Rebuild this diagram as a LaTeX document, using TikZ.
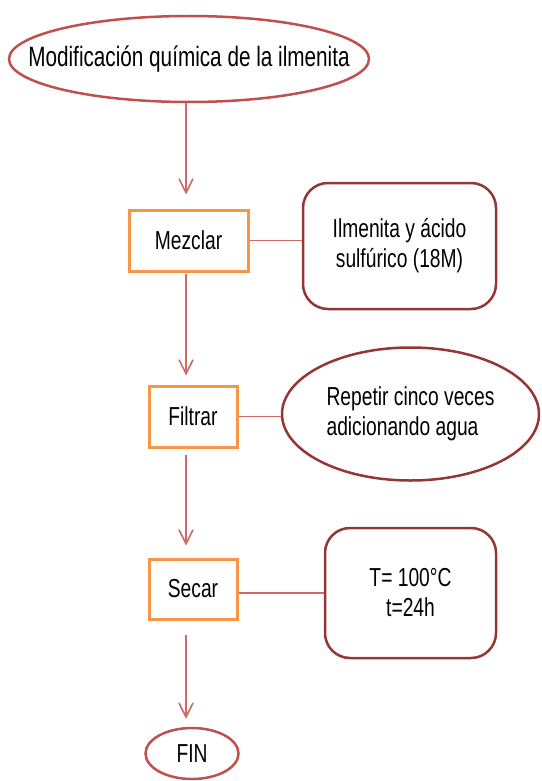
\documentclass[tikz,border=0pt]{standalone}
\usepackage{fontspec}
\setmainfont{Liberation Sans}[FakeStretch=0.74]
\usetikzlibrary{arrows.meta,shapes.geometric}
\definecolor{linea}{HTML}{CD6B69}
\definecolor{naranja}{HTML}{F79646}
\definecolor{rojo}{HTML}{C0504D}
\definecolor{granate}{HTML}{943634}

\begin{document}
\begin{tikzpicture}[x=1pt,y=-1pt,
	every node/.style={font=\fontsize{26}{30}\selectfont,inner sep=0pt},
	paso/.style={draw=naranja,line width=3pt,minimum width=88pt,minimum height=61pt},
	nota/.style={draw=granate,line width=2.5pt,rounded corners=25pt,align=center},
	elipse/.style={draw=rojo,ellipse,line width=2.5pt},
	flecha/.style={draw=linea,line width=1.6pt,-{Straight Barb[length=14pt,width=14pt]}},
	enlace/.style={draw=linea,line width=1.6pt}]
	\useasboundingbox (0,0) rectangle (541,781);
	\coordinate (eje) at (186,0);
	\node[elipse,minimum width=360pt,minimum height=86pt,inner xsep=-45pt,font=\fontsize{28}{30}\selectfont] (inicio) at (189,59) {Modificación química de la ilmenita};
	\node[paso,minimum width=119pt] (mezclar) at (188.5,240.5) {Mezclar};
	\node[nota,minimum width=193pt,minimum height=126pt] (reactivos) at (399.5,246) {Ilmenita y ácido\\sulfúrico (18M)};
	\node[paso] (filtrar) at (193,416.5) {Filtrar};
	\node[elipse,draw=granate,minimum width=257pt,minimum height=133pt,align=left] (lavado) at (410.5,414) {Repetir cinco veces\\adicionando agua};
	\node[paso,minimum height=60pt] (secar) at (193,589) {Secar};
	\node[nota,minimum width=171pt,minimum height=130pt] (condiciones) at (410.5,593) {T= 100°C\\t=24h};
	\node[elipse,minimum width=93pt,minimum height=51pt] (fin) at (192,753.5) {FIN};
	% flujo principal
	\draw[flecha,shorten >=14pt] (inicio.south -| eje) -- (mezclar.north -| eje);
	\draw[flecha,shorten <=1pt,shorten >=9pt] (mezclar.south -| eje) -- (filtrar.north -| eje);
	\draw[flecha,shorten <=6pt,shorten >=12pt] (filtrar.south -| eje) -- (secar.north -| eje);
	\draw[flecha,shorten <=14pt,shorten >=8pt] (secar.south -| eje) -- (fin.north -| eje);
	% notas laterales
	\draw[enlace] (mezclar.east) -- (mezclar.east -| reactivos.west);
	\draw[enlace] (filtrar.east) -- (filtrar.east -| lavado.west);
	\draw[enlace] (secar.east |- condiciones.west) -- (condiciones.west);
\end{tikzpicture}
\end{document}
